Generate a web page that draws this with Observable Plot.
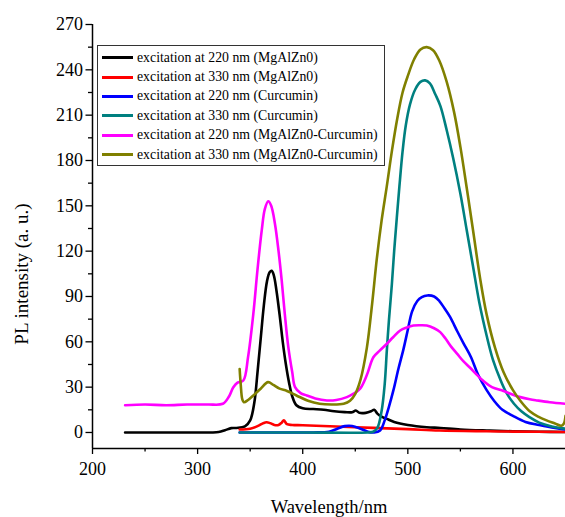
<!DOCTYPE html>
<html>
<head>
<meta charset="utf-8">
<script src="https://cdn.jsdelivr.net/npm/d3@7"></script>
<script src="https://cdn.jsdelivr.net/npm/@observablehq/plot@0.6"></script>
<style>
  html, body { margin: 0; padding: 0; background: #fff; }
  #wrap { position: relative; width: 565px; height: 517px; font-family: "Liberation Serif", "Times New Roman", serif; color: #000; }
  #ylab { position: absolute; left: 22px; top: 274px; transform: translate(-50%, -50%) rotate(-90deg); white-space: nowrap; font-size: 19px; }
  #legend { position: absolute; left: 97px; top: 45px; width: 288px; height: 121px; border: 1px solid #333; background: #fff; box-sizing: border-box; padding-top: 2px; }
  .row { display: flex; align-items: center; height: 19.4px; font-size: 13.8px; white-space: nowrap; }
  .sw { width: 31px; height: 3px; margin-left: 4px; margin-right: 4px; flex: none; }
</style>
</head>
<body>
<div id="wrap"></div>
<script>
// ---- data ----
const seriesNames = [
  "excitation at 220 nm (MgAlZn0)",
  "excitation at 330 nm (MgAlZn0)",
  "excitation at 220 nm (Curcumin)",
  "excitation at 330 nm (Curcumin)",
  "excitation at 220 nm (MgAlZn0-Curcumin)",
  "excitation at 330 nm (MgAlZn0-Curcumin)"
];
const seriesColors = ["#000000", "#ff0000", "#0000ff", "#008080", "#ff00ff", "#808000"];

const wlBlack = [231, 260, 290, 320, 326, 332, 337, 345, 350, 354, 357, 360, 363, 366, 368.5, 370.5, 372.5, 375, 378, 381, 384, 387, 390, 394, 400, 410, 420, 430, 440, 447, 450.5, 454, 460, 465, 468, 471, 475, 480, 487, 500, 518, 531, 550, 575, 600, 625, 650];
const plBlack = [0, 0, 0, 0.3, 1.5, 2.9, 3, 4, 8, 20, 40, 62, 84, 100, 106, 107, 104, 94, 78, 60, 45, 33, 24, 18, 16, 15.5, 15, 14, 13.5, 13.4, 14.5, 13, 13, 14, 15, 12.5, 10.5, 9, 7, 5, 3.5, 3, 2, 1.3, 0.8, 0.5, 0.3];

const wlRed = [340, 350, 358, 362, 365.7, 369, 373, 377, 380, 382, 385, 390, 400, 450, 500, 530, 575, 600, 650];
const plRed = [2, 2.5, 4.5, 6, 6.8, 6.2, 5, 5, 6.5, 8, 5.5, 5, 4.8, 3.5, 2.2, 1.3, 0.8, 0.6, 0.3];

const wlBlue = [340, 380, 410, 425, 433, 440, 447, 455, 462, 468, 473.6, 478, 482, 486.3, 491, 495.8, 500, 504, 509, 513.3, 518.5, 525, 530, 535, 540.3, 547, 553, 560, 567, 575, 582, 590, 600, 612, 625, 640, 650];
const plBlue = [0, 0, 0, 0.5, 2.5, 4.2, 4.3, 2.5, 0.5, 0, 1.3, 8, 17, 28, 42, 55, 68, 80, 87, 89.6, 90.7, 90, 87, 82, 76.3, 67, 59, 50, 38, 28, 21, 15, 11, 7, 5, 3, 2];

const wlTeal = [340, 400, 462, 467, 471, 475, 478, 480, 482, 484.8, 487, 489.5, 492, 495, 498, 502, 507, 512, 516.5, 521, 526, 531, 537, 543, 550, 556, 562, 568, 575, 581, 588, 594, 601, 608, 616, 625, 637, 650];
const plTeal = [0, 0, 0, 0.5, 3, 14, 32, 54, 74, 98, 120, 142, 163, 186, 203, 217, 227, 232, 233, 231, 224, 216, 200, 182, 158, 134, 110, 86, 64, 48, 35, 26, 19, 14, 10, 6.5, 4, 2.5];

const wlMagenta = [231, 250, 270, 290, 310, 324, 330, 334, 338, 343.5, 348, 353, 357, 361, 364, 367.2, 370, 373.6, 377, 380, 383, 386.3, 390, 392.7, 398, 403.8, 412, 423, 432, 442, 448, 454.6, 461, 467.2, 473, 480, 486, 492.7, 499, 505.3, 512, 518, 525, 530.8, 536, 541, 547, 553, 559, 566, 572, 580, 591, 600, 607, 616, 623, 635, 650];
const plMagenta = [18, 18.5, 18, 18.5, 18.5, 19, 24, 30, 33, 34.4, 50, 78.5, 108, 133.7, 148, 153, 150, 138, 120, 100.6, 78, 56.5, 40, 30, 26, 24.5, 22.5, 21.2, 21.5, 23.4, 25.5, 29, 38, 49.8, 54, 58.7, 63, 67.5, 69.5, 70.8, 71, 70.8, 69, 66.4, 62, 57, 52, 47, 43, 38, 34, 30, 27.5, 25, 23.4, 22, 21.2, 20, 19];

const wlOlive = [340, 341, 342.5, 344, 348, 353, 360, 367, 372, 378, 385, 394, 405, 416, 428, 439, 445, 450, 455, 461, 466, 470.5, 475, 480, 485, 490, 495, 500, 506, 512, 518, 524, 530, 537, 544, 550, 556, 562, 569, 575, 583, 591, 600, 607, 616, 624, 632, 640, 646, 648.5, 650];
const plOlive = [42, 32, 22, 20, 21.5, 24.5, 29, 33.3, 31.5, 29, 27.5, 24.5, 21, 19, 18.5, 19, 21, 25.6, 35, 56, 85, 115, 140, 163, 187, 208, 225, 236, 247, 253.5, 255, 253, 246, 232, 212, 189, 162, 134, 101, 78, 56, 40, 28, 21, 14, 10.5, 8, 6, 4.5, 6, 11];

const xDomain = [200, 650];
const yDomain = [-10.6, 270];
const xMajor = [200, 300, 400, 500, 600];
const xMinor = [250, 350, 450, 550];
const yMajor = [0, 30, 60, 90, 120, 150, 180, 210, 240, 270];
const yMinor = [15, 45, 75, 105, 135, 165, 195, 225, 255];
const xTitle = "Wavelength/nm";
const yTitle = "PL intensity (a. u.)";

// ---- build ----
const wlAll = [wlBlack, wlRed, wlBlue, wlTeal, wlMagenta, wlOlive];
const plAll = [plBlack, plRed, plBlue, plTeal, plMagenta, plOlive];
const rows = wlAll.map((wl, i) => wl.map((w, j) => ({wl: w, pl: plAll[i][j]})));

const chart = Plot.plot({
  width: 565,
  height: 517,
  marginLeft: 92,
  marginRight: 0,
  marginTop: 24,
  marginBottom: 69,
  x: {domain: xDomain},
  y: {domain: yDomain},
  style: {fontFamily: "'Liberation Serif', 'Times New Roman', serif", fontSize: "18px", color: "#000", background: "#fff", overflow: "visible"},
  marks: [
    ...rows.map((r, i) => Plot.line(r, {x: "wl", y: "pl", stroke: seriesColors[i], strokeWidth: 2.6, curve: "catmull-rom", clip: true})),
    Plot.ruleX([xDomain[0]], {strokeWidth: 1.5}),
    Plot.ruleY([yDomain[0]], {strokeWidth: 1.5}),
    Plot.axisY(yMajor, {anchor: "left", tickSize: 6.5, tickPadding: 3, strokeWidth: 1.3, fontSize: 18, fontFamily: "Liberation Serif", label: null}),
    Plot.axisY(yMinor, {anchor: "left", tickSize: 4, tickFormat: () => "", strokeWidth: 1.3, label: null}),
    Plot.axisX(xMajor, {anchor: "bottom", tickSize: 6, tickPadding: 8, strokeWidth: 1.3, fontSize: 18, fontFamily: "Liberation Serif", label: null}),
    Plot.axisX(xMinor, {anchor: "bottom", tickSize: 3.5, tickFormat: () => "", strokeWidth: 1.3, label: null}),
    Plot.text([xTitle], {text: d => d, frameAnchor: "bottom", dy: 64, fontSize: 18.5, fontFamily: "Liberation Serif"})
  ]
});

const wrap = document.getElementById("wrap");
wrap.appendChild(chart);

const ylab = document.createElement("div");
ylab.id = "ylab";
ylab.textContent = yTitle;
wrap.appendChild(ylab);

const legend = document.createElement("div");
legend.id = "legend";
seriesNames.forEach((name, i) => {
  const row = document.createElement("div");
  row.className = "row";
  const sw = document.createElement("span");
  sw.className = "sw";
  sw.style.background = seriesColors[i];
  const t = document.createElement("span");
  t.textContent = name;
  row.appendChild(sw);
  row.appendChild(t);
  legend.appendChild(row);
});
wrap.appendChild(legend);
</script>
</body>
</html>
